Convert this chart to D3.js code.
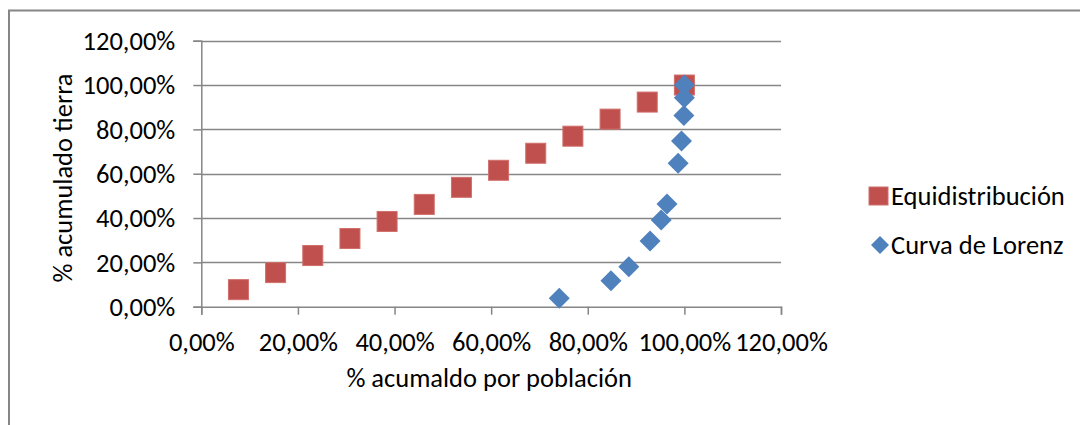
<!DOCTYPE html>
<html>
<head>
<meta charset="utf-8">
<script src="https://cdn.jsdelivr.net/npm/d3@7"></script>
<style>
  html, body { margin: 0; padding: 0; background: #fff; }
  svg text { font-family: Carlito, Calibri, "Liberation Sans", Arial, sans-serif; fill: #000; }
</style>
</head>
<body>
<svg id="chart" width="1080" height="425"></svg>
<script>
// Data
const seriesNames = ["Equidistribución", "Curva de Lorenz"];
const equiX = [7.69, 15.38, 23.08, 30.77, 38.46, 46.15, 53.85, 61.54, 69.23, 76.92, 84.62, 92.31, 100];
const equiY = [7.69, 15.38, 23.08, 30.77, 38.46, 46.15, 53.85, 61.54, 69.23, 76.92, 84.62, 92.31, 100];
const lorenzX = [74.1, 84.8, 88.5, 92.9, 95.2, 96.4, 98.7, 99.4, 99.9, 100, 100];
const lorenzY = [3.8, 11.7, 18.0, 29.6, 39.1, 46.3, 64.7, 74.7, 86.3, 94.3, 100];
const xTicks = [0, 20, 40, 60, 80, 100, 120];
const yTicks = [0, 20, 40, 60, 80, 100, 120];
const xTitle = "% acumaldo por población";
const yTitle = "% acumulado tierra";

const fmt = v => v.toFixed(2).replace(".", ",") + "%";

const svg = d3.select("#chart");
const gridColor = "#868686";
const fs = 26.5;

// chart border
svg.append("path")
  .attr("d", "M9,430 L9,10.5 L1085,10.5")
  .attr("fill", "none").attr("stroke", gridColor).attr("stroke-width", 2);

const x = d3.scaleLinear().domain([0, 120]).range([201.3, 781]);
const y = d3.scaleLinear().domain([0, 120]).range([306.7, 40.7]);

// gridlines
svg.append("g").selectAll("line").data(yTicks.filter(t => t > 0)).join("line")
  .attr("x1", x(0)).attr("x2", x(120))
  .attr("y1", d => Math.round(y(d)) + 0.5).attr("y2", d => Math.round(y(d)) + 0.5)
  .attr("stroke", gridColor).attr("stroke-width", 1.5);

// Y axis
const yAxis = svg.append("g")
  .attr("transform", `translate(${x(0)},0)`)
  .call(d3.axisLeft(y).tickValues(yTicks).tickFormat(fmt).tickSize(8).tickPadding(18));
yAxis.select(".domain").attr("stroke", gridColor).attr("stroke-width", 1.5);
yAxis.selectAll(".tick line").attr("stroke", gridColor).attr("stroke-width", 1.5);
yAxis.selectAll("text").attr("font-size", fs).attr("dy", "0.33em");

// X axis
const xAxis = svg.append("g")
  .attr("transform", `translate(0,${y(0)})`)
  .call(d3.axisBottom(x).tickValues(xTicks).tickFormat(fmt).tickSize(8).tickPadding(20));
xAxis.select(".domain").attr("stroke", gridColor).attr("stroke-width", 1.5);
xAxis.selectAll(".tick line").attr("stroke", gridColor).attr("stroke-width", 1.5);
xAxis.selectAll("text").attr("font-size", fs).attr("dy", "0.62em");

// axis titles
svg.append("text").attr("x", (x(0) + x(120)) / 2 - 2).attr("y", 387)
  .attr("text-anchor", "middle").attr("font-size", fs).text(xTitle);
svg.append("text").attr("transform", `translate(72,178) rotate(-90)`)
  .attr("text-anchor", "middle").attr("font-size", fs).text(yTitle);

const red = "#C0504D", redStroke = "#D06F6C";
const blue = "#4F81BD";
const sq = 20, dm = 10.5;
const diamond = (cx, cy, r) => `M${cx},${cy - r} L${cx + r},${cy} L${cx},${cy + r} L${cx - r},${cy} Z`;

// Equidistribución squares
svg.append("g").selectAll("rect").data(equiX.map((v, i) => [v, equiY[i]])).join("rect")
  .attr("x", d => x(d[0]) - sq / 2).attr("y", d => y(d[1]) - sq / 2)
  .attr("width", sq).attr("height", sq)
  .attr("fill", red).attr("stroke", redStroke).attr("stroke-width", 1);

// Lorenz diamonds
svg.append("g").selectAll("path").data(lorenzX.map((v, i) => [v, lorenzY[i]])).join("path")
  .attr("d", d => diamond(x(d[0]), y(d[1]), dm))
  .attr("fill", blue);

// Legend
const lg = svg.append("g");
lg.append("rect").attr("x", 869).attr("y", 187).attr("width", 19).attr("height", 18)
  .attr("fill", red).attr("stroke", redStroke);
lg.append("text").attr("x", 891).attr("y", 196).attr("dy", "0.33em").attr("font-size", fs).text(seriesNames[0]);
lg.append("path").attr("d", diamond(880, 245, 9)).attr("fill", blue);
lg.append("text").attr("x", 891).attr("y", 245).attr("dy", "0.33em").attr("font-size", fs).text(seriesNames[1]);
</script>
</body>
</html>
